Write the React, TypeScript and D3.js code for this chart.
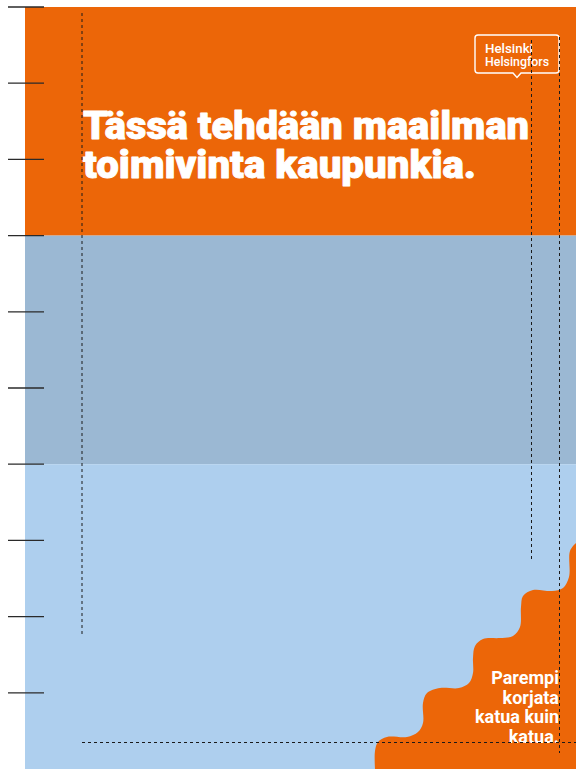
import React from "react";
import * as d3 from "d3";

const W = 576;
const H = 769;

// Ruler ticks on the left (in ruler units)
const rulerTicks = [0, 1, 2, 3, 4, 5, 6, 7, 8, 9];
// Colour bands (ruler units)
const bandStarts = [0, 3, 6];
const bandEnds = [3, 6, 10];
const bandColors = ["#EC6608", "#9BB8D3", "#AECFEE"];

const titleLines = ["Tässä tehdään maailman", "toimivinta kaupunkia."];
const sloganLines = ["Parempi", "korjata", "katua kuin", "katua."];
const logoLines = ["Helsinki", "Helsingfors"];

// Wavy stair outline (poster pixel space)
const waveX = [576, 570, 569, 563, 552, 533, 523, 521, 520, 513, 500, 483, 475, 473, 473, 469, 459, 440, 427, 423, 423, 418, 407, 387, 378, 375, 375];
const waveY = [543, 551, 577, 588, 591, 590, 596, 607, 627, 636, 638, 639, 646, 658, 673, 683, 688, 688, 693, 703, 723, 732, 737, 737, 742, 751, 769];

export default function App() {
  const y = d3.scaleLinear().domain([0, 10]).range([7, 769]);
  const x = d3.scaleLinear().domain([0, W]).range([0, W]);

  const pts: [number, number][] = waveX.map((v, i) => [x(v), waveY[i]]);
  const line = d3.line().curve(d3.curveCatmullRom.alpha(0.5));
  const wavePath = line(pts) + ` L${W},${H} L${W},${pts[0][1]} Z`;

  const dash = { stroke: "#1a1a1a", strokeWidth: 1, strokeDasharray: "3,3", fill: "none" } as const;

  return (
    <svg width={W} height={H} style={{ position: "absolute", left: 0, top: 0 }} xmlns="http://www.w3.org/2000/svg">
      <rect x={0} y={0} width={W} height={H} fill="#ffffff" />
      {bandStarts.map((s, i) => (
        <rect key={i} x={25} y={y(s)} width={W - 25} height={y(bandEnds[i]) - y(s)} fill={bandColors[i]} />
      ))}
      {rulerTicks.map((t) => (
        <line key={t} x1={8} x2={44} y1={y(t)} y2={y(t)} stroke="#2a2a2a" strokeWidth={1.3} />
      ))}

      {/* wave */}
      <path d={wavePath} fill="#EC6608" />

      {/* title */}
      <g fill="#ffffff" stroke="#ffffff" strokeWidth={0.9} strokeLinejoin="round" fontFamily="Roboto, 'Open Sans', sans-serif" fontWeight={900} fontSize={39}>
        <text x={83} y={139} textLength={446} lengthAdjust="spacingAndGlyphs">{titleLines[0]}</text>
        <text x={83} y={178} textLength={393} lengthAdjust="spacingAndGlyphs">{titleLines[1]}</text>
      </g>

      {/* logo */}
      <path
        d="M478,35 H556 Q559,35 559,38 V70 Q559,73 556,73 H521 L517,77.5 L513,73 H478 Q475,73 475,70 V38 Q475,35 478,35 Z"
        fill="none"
        stroke="#ffffff"
        strokeWidth={1.4}
      />
      <g fill="#ffffff" fontFamily="Roboto, 'Noto Sans', sans-serif" fontWeight={500} fontSize={12}>
        <text x={485} y={53} textLength={48} lengthAdjust="spacingAndGlyphs">{logoLines[0]}</text>
        <text x={485} y={66} textLength={64} lengthAdjust="spacingAndGlyphs">{logoLines[1]}</text>
      </g>

      {/* slogan */}
      <g fill="#ffffff" fontFamily="Roboto, 'Noto Sans', sans-serif" fontWeight={700} fontSize={18} textAnchor="end">
        {sloganLines.map((l, i) => (
          <text key={i} x={559} y={684 + i * 19.5}>{l}</text>
        ))}
      </g>

      {/* dashed guides */}
      <line x1={82} x2={82} y1={13} y2={637} {...dash} />
      <line x1={531.5} x2={531.5} y1={40} y2={560} {...dash} />
      <line x1={559.5} x2={559.5} y1={37} y2={753} {...dash} />
      <line x1={82} x2={576} y1={742.5} y2={742.5} {...dash} />
    </svg>
  );
}
